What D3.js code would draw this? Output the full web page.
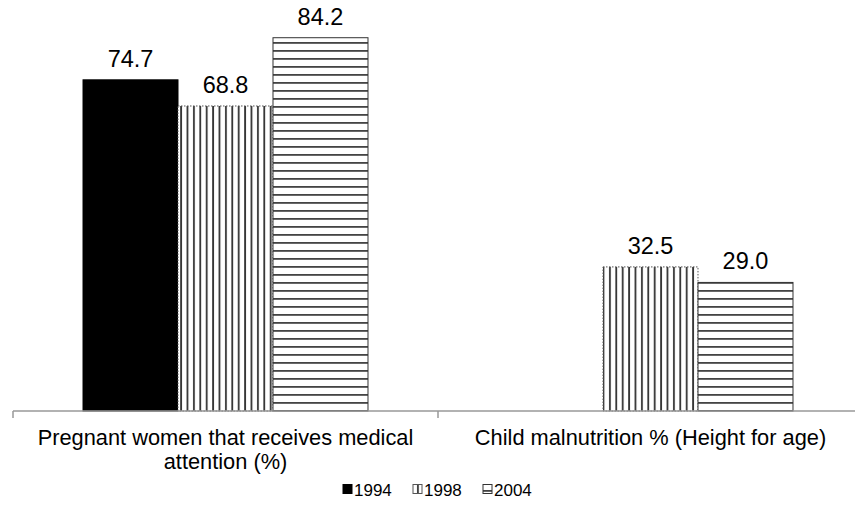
<!DOCTYPE html>
<html>
<head>
<meta charset="utf-8">
<script src="https://cdn.jsdelivr.net/npm/d3@7"></script>
<style>
  body { margin: 0; background: #fff; }
  svg { font-family: "Liberation Sans", Arial, sans-serif; }
</style>
</head>
<body>
<div id="chart"></div>
<script>
const categorias = ["Pregnant women that receives medical attention (%)", "Child malnutrition % (Height for age)"];
const rotulosCategoria = [["Pregnant women that receives medical", "attention (%)"], ["Child malnutrition % (Height for age)"]];
const anos = ["1994", "1998", "2004"];
const valores1994 = [74.7, null];
const valores1998 = [68.8, 32.5];
const valores2004 = [84.2, 29.0];

const series = { "1994": valores1994, "1998": valores1998, "2004": valores2004 };

const width = 855, height = 514;
const margin = { top: 12, right: -8, bottom: 103, left: 13 };

const svg = d3.select("#chart").append("svg")
  .attr("width", width).attr("height", height);

// padrões
const defs = svg.append("defs");
const pv = defs.append("pattern").attr("id", "p1998")
  .attr("patternUnits", "userSpaceOnUse").attr("width", 6.4).attr("height", 10);
pv.append("rect").attr("width", 6.4).attr("height", 10).attr("fill", "#fff");
pv.append("rect").attr("x", 1).attr("width", 1.8).attr("height", 10).attr("fill", "#333");

const ph = defs.append("pattern").attr("id", "p2004")
  .attr("patternUnits", "userSpaceOnUse").attr("width", 10).attr("height", 8);
ph.append("rect").attr("width", 10).attr("height", 8).attr("fill", "#fff");
ph.append("rect").attr("y", 2).attr("width", 10).attr("height", 1.8).attr("fill", "#444");

const preench = { "1994": "#000", "1998": "url(#p1998)", "2004": "url(#p2004)" };
const borda = { "1994": "#000", "1998": "#555", "2004": "#333" };
const tracejado = { "1994": null, "1998": "1.5,1.5", "2004": null };

const x0 = d3.scaleBand().domain(categorias)
  .range([margin.left, width - margin.right]).paddingInner(0).paddingOuter(0);
const x1 = d3.scaleBand().domain(anos)
  .range([0, x0.bandwidth()]).paddingInner(0).paddingOuter(0.737);
const y = d3.scaleLinear().domain([0, 90]).range([height - margin.bottom, margin.top]);

const dados = [];
categorias.forEach((c, i) => {
  anos.forEach(a => {
    if (series[a][i] != null) dados.push({ cat: c, ano: a, valor: series[a][i] });
  });
});

const g = svg.append("g");
g.selectAll("rect.barra")
  .data(dados).enter()
  .append("rect")
  .attr("class", "barra")
  .attr("x", d => x0(d.cat) + x1(d.ano))
  .attr("y", d => y(d.valor))
  .attr("width", x1.bandwidth())
  .attr("height", d => y(0) - y(d.valor))
  .attr("fill", d => preench[d.ano])
  .attr("stroke", d => borda[d.ano])
  .attr("stroke-width", 1)
  .attr("stroke-dasharray", d => tracejado[d.ano]);

g.selectAll("text.valor")
  .data(dados).enter()
  .append("text")
  .attr("class", "valor")
  .attr("x", d => x0(d.cat) + x1(d.ano) + x1.bandwidth() / 2)
  .attr("y", d => y(d.valor) - 13)
  .attr("text-anchor", "middle")
  .style("font-size", "23.5px")
  .attr("fill", "#000")
  .text(d => d.valor.toFixed(1));

// eixo x
const eixo = svg.append("g").attr("transform", `translate(0,${y(0)})`);
eixo.append("line")
  .attr("x1", margin.left).attr("x2", width)
  .attr("stroke", "#999").attr("stroke-width", 1.5);
const ticks = [x0.range()[0], x0(categorias[1])];
eixo.selectAll("line.tick").data(ticks).enter()
  .append("line").attr("class", "tick")
  .attr("x1", d => d).attr("x2", d => d)
  .attr("y1", 0).attr("y2", 7)
  .attr("stroke", "#999").attr("stroke-width", 1.5);

categorias.forEach((c, i) => {
  const t = svg.append("text")
    .attr("x", x0(c) + x0.bandwidth() / 2)
    .attr("y", y(0) + 34)
    .attr("text-anchor", "middle")
    .style("font-size", "21.8px");
  rotulosCategoria[i].forEach((linha, j) => {
    t.append("tspan").attr("x", x0(c) + x0.bandwidth() / 2).attr("dy", j === 0 ? 0 : 24).text(linha);
  });
});

// legenda
const legX = [343, 413, 483];
const leg = svg.append("g");
anos.forEach((a, i) => {
  leg.append("rect")
    .attr("x", legX[i]).attr("y", 484.5)
    .attr("width", 9).attr("height", 9)
    .attr("fill", preench[a])
    .attr("stroke", borda[a]).attr("stroke-width", 1);
  leg.append("text")
    .attr("x", legX[i] + 11).attr("y", 495.5)
    .style("font-size", "17px")
    .text(a);
});
</script>
</body>
</html>
